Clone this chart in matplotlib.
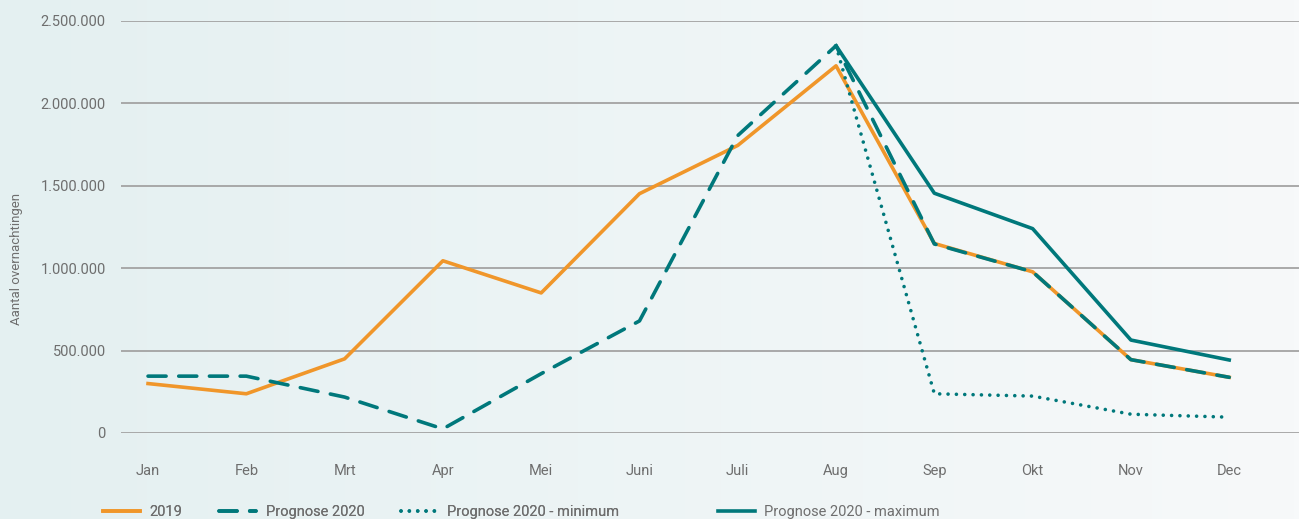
import numpy as np
import matplotlib
matplotlib.use("Agg")
import matplotlib.pyplot as plt
from matplotlib.ticker import FuncFormatter
from matplotlib.colors import LinearSegmentedColormap

plt.rcParams['font.family'] = ['Roboto', 'DejaVu Sans']

# data
months = ['Jan', 'Feb', 'Mrt', 'Apr', 'Mei', 'Juni', 'Juli', 'Aug', 'Sep', 'Okt', 'Nov', 'Dec']
y2019 = [300000, 238000, 450000, 1045000, 850000, 1452000, 1745000, 2228000, 1150000, 978000, 445000, 338000]
prognose = [345000, 345000, 218000, 25000, 360000, 680000, 1805000, 2350000, 1147000, 978000, 445000, 338000]
prog_min = [None] * 7 + [2350000, 238000, 224000, 114000, 96000]
prog_max = [None] * 7 + [2350000, 1455000, 1240000, 564000, 443000]

orange = '#f0962a'
teal = '#00787b'
textc = '#6e6e6e'
gridc = '#a3a3a3'

fig = plt.figure(figsize=(12.99, 5.19), dpi=100)

# background gradient
bg = fig.add_axes([0, 0, 1, 1], zorder=-10)
cmap = LinearSegmentedColormap.from_list('bg', ['#e4f0f1', '#f7f9fa'])
bg.imshow(np.linspace(0, 1, 256).reshape(1, -1), aspect='auto', cmap=cmap, extent=[0, 1, 0, 1])
bg.axis('off')

ax = fig.add_axes([121 / 1299, 86 / 519, 1 - 121 / 1299, 412 / 519])
ax.patch.set_alpha(0)

x = np.arange(len(months))
l1, = ax.plot(x, y2019, color=orange, lw=2.6, label='2019', zorder=3)
l2, = ax.plot(x, prognose, color=teal, lw=2.6, ls=(0, (5, 3.5)), dash_capstyle='round',
              label='Prognose 2020', zorder=4)
xm = x[7:]
l3, = ax.plot(xm, prog_min[7:], color=teal, lw=2.6, ls=(0, (0.01, 2.3)), dash_capstyle='round',
              label='Prognose 2020 - minimum', zorder=4)
l4, = ax.plot(xm, prog_max[7:], color=teal, lw=2.6, label='Prognose 2020 - maximum', zorder=4)

ax.set_ylim(0, 2500000)
ax.set_xlim(-0.275, 11.71)
ax.set_yticks(np.arange(0, 2500001, 500000))
ax.yaxis.set_major_formatter(FuncFormatter(lambda v, p: f'{int(v):,}'.replace(',', '.')))
ax.set_xticks(x)
ax.set_xticklabels(months)
ax.tick_params(axis='both', length=0, labelsize=10.5, colors=textc)
ax.tick_params(axis='y', pad=11)
ax.tick_params(axis='x', pad=22)
ax.grid(axis='y', color=gridc, lw=1.3)
ax.set_axisbelow(True)
for s in ax.spines.values():
    s.set_visible(False)

fig.text(17 / 1299, 1 - 259 / 519, 'Aantal overnachtingen', rotation=90, ha='center', va='center',
         fontsize=9.5, color=textc)

legkw = dict(loc='lower left', frameon=False, fontsize=10.5, handlelength=2.55,
             columnspacing=2.5, handletextpad=0.65, borderaxespad=0)
leg1 = fig.legend(handles=[l1, l2, l3], ncol=3, bbox_to_anchor=(97 / 1299, -6 / 519), **legkw)
leg2 = fig.legend(handles=[l4], ncol=1, bbox_to_anchor=(712 / 1299, -6 / 519), **legkw)
fig.add_artist(leg1)
for leg in (leg1, leg2):
    for t in leg.get_texts():
        t.set_color(textc)

fig.savefig('out.png', dpi=100)
